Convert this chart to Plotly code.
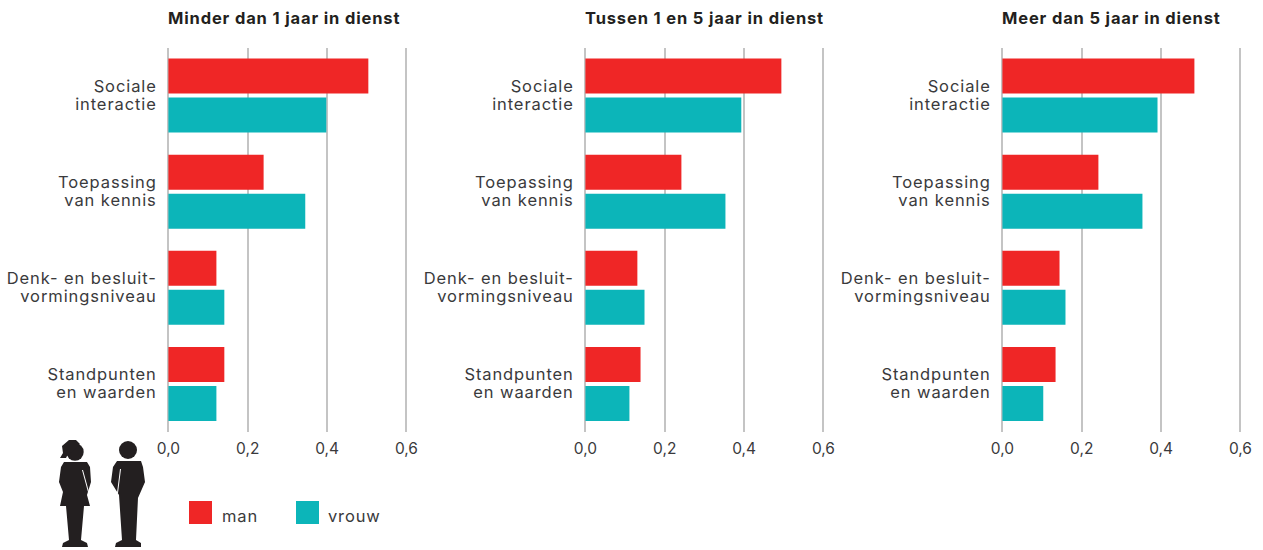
import plotly.graph_objects as go

W, H = 1263, 550
FONT = "Inter"
INK = "#231f20"
TEXT = "#3a3a3c"
RED = "#ef2626"
TEAL = "#0cb5b9"
GRID = "#c4c4c4"

categories = ["Sociale<br>interactie", "Toepassing<br>van kennis",
              "Denk- en besluit-<br>vormingsniveau", "Standpunten<br>en waarden"]
panel_titles = ["Minder dan 1 jaar in dienst", "Tussen 1 en 5 jaar in dienst", "Meer dan 5 jaar in dienst"]
man_1 = [0.504, 0.240, 0.121, 0.141]
vrouw_1 = [0.398, 0.345, 0.141, 0.121]
man_2 = [0.494, 0.242, 0.131, 0.139]
vrouw_2 = [0.393, 0.353, 0.149, 0.111]
man_3 = [0.484, 0.242, 0.144, 0.134]
vrouw_3 = [0.391, 0.353, 0.159, 0.103]
tick_vals = [0, 0.2, 0.4, 0.6]
legend_names = ["man", "vrouw"]

panels = [(168, man_1, vrouw_1), (585, man_2, vrouw_2), (1002, man_3, vrouw_3)]
X_RANGE = [-0.006, 0.606]
PX_PER_UNIT = 396.7
PANEL_W = (X_RANGE[1] - X_RANGE[0]) * PX_PER_UNIT
PAD = -X_RANGE[0] * PX_PER_UNIT - 0.4
TOP, BOTTOM = 47.5, 432


def px(x):
    return x / W


def py(y):
    return 1 - y / H


fig = go.Figure()
layout = dict(
    width=W, height=H, margin=dict(l=0, r=0, t=0, b=0, pad=0),
    paper_bgcolor="white", plot_bgcolor="white", showlegend=False,
    barmode="group", bargap=0.1875, bargroupgap=0.1026,
    separators=",.", font=dict(family=FONT, color=TEXT, size=16),
)
annotations, shapes = [], []

for i, (left, man, vrouw) in enumerate(panels):
    n = "" if i == 0 else str(i + 1)
    fig.add_trace(go.Bar(y=categories, x=man, orientation="h", name=legend_names[0],
                         marker=dict(color=RED, line_width=0), xaxis=f"x{n}", yaxis=f"y{n}"))
    fig.add_trace(go.Bar(y=categories, x=vrouw, orientation="h", name=legend_names[1],
                         marker=dict(color=TEAL, line_width=0), xaxis=f"x{n}", yaxis=f"y{n}"))
    layout[f"xaxis{n}"] = dict(
        domain=[px(left - PAD), px(left - PAD + PANEL_W)], range=X_RANGE, anchor=f"y{n}", automargin=False,
        tickvals=tick_vals, tickformat=".1f", showgrid=True, gridcolor=GRID, gridwidth=1.5,
        zeroline=False, showline=False, ticks="outside", ticklen=2, tickcolor="rgba(0,0,0,0)",
        tickfont=dict(family=FONT, size=15.5, color=TEXT),
    )
    layout[f"yaxis{n}"] = dict(
        domain=[py(BOTTOM), py(TOP)], anchor=f"x{n}", autorange="reversed", type="category", automargin=False,
        showgrid=False, zeroline=False, showline=False, ticks="outside", ticklen=5,
        tickcolor="rgba(0,0,0,0)", tickfont=dict(family=FONT, size=16.5, color=TEXT),
    )
    annotations.append(dict(text=f"<b>{panel_titles[i]}</b>", x=px(left - 2), y=py(18), xref="paper", yref="paper",
                            xanchor="left", yanchor="middle", showarrow=False,
                            font=dict(family=FONT, size=16.5, color=INK)))

# legend
for name, color, x0, tx in zip(legend_names, [RED, TEAL], [189, 296], [220, 326]):
    shapes.append(dict(type="rect", xref="paper", yref="paper", x0=px(x0), x1=px(x0 + 23),
                       y0=py(524), y1=py(501), fillcolor=color, line_width=0))
    annotations.append(dict(text=name, x=px(tx), y=py(516), xref="paper", yref="paper", xanchor="left",
                            yanchor="middle", showarrow=False, font=dict(family=FONT, size=16.5, color=TEXT)))


# decorative figures, outlined in picture pixels
def path(points):
    return "M" + " L".join(f"{px(x):.5f},{py(y):.5f}" for x, y in points) + " Z"


def add_path(points, color=INK, width=0):
    shapes.append(dict(type="path", xref="paper", yref="paper", path=path(points), fillcolor=color,
                       line=dict(width=width, color=color)))


def add_circle(cx, cy, r):
    shapes.append(dict(type="circle", xref="paper", yref="paper", x0=px(cx - r), x1=px(cx + r),
                       y0=py(cy + r), y1=py(cy - r), fillcolor=INK, line_width=0))


woman = [(64, 462), (87, 462), (90, 467), (91, 482), (87, 495), (90, 506), (84, 506), (81, 540), (87, 543),
         (88, 547), (62, 547), (63, 543), (69, 540), (66, 506), (60, 506), (63, 492), (59, 482), (61, 467)]
man_fig = [(117, 461), (141, 461), (143, 467), (145, 482), (138, 498), (136, 540), (141, 543), (141, 547),
           (115, 547), (116, 543), (122, 540), (119, 495), (111, 482), (113, 467)]
add_path(woman)
add_circle(75, 452, 8.7)
add_path([(69, 440), (76, 440), (80, 444), (72, 452), (67, 456), (66, 458), (60, 458), (63, 453), (62, 446)])
add_path([(82, 470), (83, 470), (89, 492), (88, 492)], color="white")
add_path(man_fig)
add_circle(128, 450, 9)
add_path([(120, 469), (121, 469), (118, 493), (117, 493)], color="white")

layout["annotations"] = annotations
layout["shapes"] = shapes
fig.update_layout(**layout)

# The reference typeface is wider and set tighter than any installed one.
POST = """
document.body.style.margin='0';document.body.style.overflow='hidden';
document.querySelectorAll('.ytick text,.y2tick text,.y3tick text').forEach(function(t){
  t.style.letterSpacing='0.9px';
  t.querySelectorAll('tspan.line').forEach(function(s,i){s.setAttribute('dy',i===0?'1px':'19px');});
});
document.querySelectorAll('.annotation-text').forEach(function(t){
  var before=t.getBBox().x;
  t.style.letterSpacing=t.querySelector('b')?'1.15px':'0.85px';
  var dx=before-t.getBBox().x;
  t.setAttribute('x',parseFloat(t.getAttribute('x'))+dx);
});
"""
fig.write_html("out.html", config={"displayModeBar": False}, post_script=POST)
